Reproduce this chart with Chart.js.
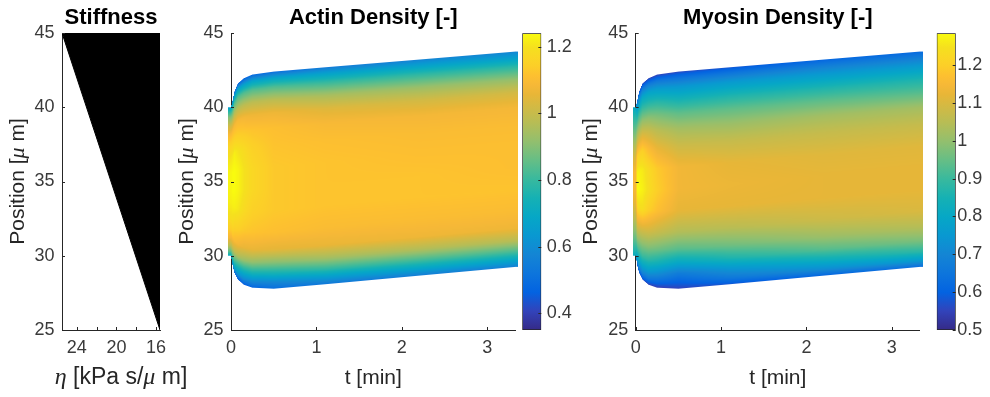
<!DOCTYPE html>
<html lang="en">
<head>
    <meta charset="UTF-8">
    <title>Stiffness, Actin and Myosin Density</title>
    <script src="https://cdn.jsdelivr.net/npm/chart.js"></script>
    <style>
        body { margin: 0; background: #fff; }
        #fig { position: relative; width: 990px; height: 397px; overflow: hidden; background: #fff; }
        .panel { position: absolute; top: 0; height: 397px; }
    </style>
</head>
<body>
<div id="fig">
    <div class="panel" style="left:0;width:210px"><canvas id="stiffChart"></canvas></div>
    <div class="panel" style="left:170px;width:350px"><canvas id="actinChart"></canvas></div>
    <div class="panel" style="left:512px;width:80px"><canvas id="actinBar"></canvas></div>
    <div class="panel" style="left:575px;width:350px"><canvas id="myosinChart"></canvas></div>
    <div class="panel" style="left:927px;width:63px"><canvas id="myosinBar"></canvas></div>
</div>

<script>
    // ---- data ----
    // stiffness: eta along the cell (straight line corner to corner)
    const stiffPosition = [25, 45];
    const stiffEta = [15.6, 25.5];
    const etaTicks = [16, 18, 20, 22, 24];
    const etaLabels = [16, 20, 24];

    const positionTicks = [25, 30, 35, 40, 45];
    const timeTicks = [0, 1, 2, 3];
    const tMax = 3.33;

    // time columns of the kymographs and the cell edges at those times [um]
    const times        = [0,  0.02, 0.04, 0.08, 0.15, 0.25, 0.5,   1.1,   2.2,   3.33];
    const domainTop    = [40, 40.5, 41.05, 41.6, 41.95, 42.2, 42.4, 42.69, 43.21, 43.75];
    const domainBottom = [30, 29.3, 28.85, 28.4, 28.05, 27.85, 27.78, 28.08, 28.66, 29.25];

    // fraction of the way from bottom edge (0) to top edge (1)
    const fracs = [0, 0.03, 0.07, 0.12, 0.18, 0.26, 0.36, 0.46, 0.56, 0.66, 0.74, 0.81, 0.87, 0.93, 0.97, 1];

    // actin density, one row per time column
    const actinDensity = [
        [0.70, 0.85, 0.98, 1.08, 1.14, 1.19, 1.22, 1.23, 1.23, 1.20, 1.16, 1.10, 1.02, 0.90, 0.78, 0.65],
        [0.55, 0.72, 0.88, 1.02, 1.12, 1.18, 1.22, 1.24, 1.24, 1.21, 1.16, 1.10, 1.00, 0.86, 0.72, 0.55],
        [0.50, 0.68, 0.83, 0.99, 1.10, 1.16, 1.22, 1.24, 1.24, 1.22, 1.15, 1.09, 0.99, 0.85, 0.70, 0.50],
        [0.45, 0.63, 0.77, 0.96, 1.08, 1.15, 1.21, 1.23, 1.23, 1.20, 1.14, 1.09, 0.98, 0.84, 0.68, 0.47],
        [0.45, 0.60, 0.75, 0.93, 1.06, 1.13, 1.18, 1.20, 1.20, 1.18, 1.13, 1.08, 0.98, 0.83, 0.66, 0.46],
        [0.47, 0.59, 0.75, 0.92, 1.06, 1.12, 1.15, 1.17, 1.17, 1.15, 1.12, 1.07, 0.98, 0.83, 0.67, 0.48],
        [0.50, 0.58, 0.74, 0.90, 1.05, 1.11, 1.13, 1.13, 1.13, 1.12, 1.11, 1.07, 0.98, 0.83, 0.68, 0.50],
        [0.53, 0.64, 0.79, 0.94, 1.06, 1.10, 1.12, 1.12, 1.12, 1.11, 1.09, 1.04, 0.95, 0.80, 0.67, 0.54],
        [0.55, 0.67, 0.81, 0.96, 1.07, 1.10, 1.12, 1.12, 1.11, 1.10, 1.08, 1.02, 0.93, 0.79, 0.67, 0.57],
        [0.56, 0.68, 0.82, 0.97, 1.07, 1.10, 1.12, 1.11, 1.11, 1.10, 1.08, 1.02, 0.92, 0.78, 0.66, 0.58]
    ];
    const actinRange = [0.35, 1.24];
    const actinTicks = [0.4, 0.6, 0.8, 1, 1.2];

    // myosin density, one row per time column
    const myosinDensity = [
        [0.82, 0.86, 0.90, 0.95, 1.00, 1.06, 1.12, 1.15, 1.15, 1.10, 1.04, 0.98, 0.93, 0.88, 0.84, 0.80],
        [0.60, 0.72, 0.83, 0.93, 1.02, 1.12, 1.23, 1.28, 1.27, 1.20, 1.10, 1.01, 0.92, 0.82, 0.72, 0.62],
        [0.57, 0.70, 0.81, 0.91, 1.00, 1.11, 1.24, 1.28, 1.27, 1.20, 1.10, 1.00, 0.91, 0.80, 0.69, 0.57],
        [0.57, 0.68, 0.79, 0.90, 0.99, 1.10, 1.24, 1.27, 1.26, 1.20, 1.10, 1.00, 0.90, 0.80, 0.68, 0.56],
        [0.55, 0.66, 0.77, 0.88, 0.98, 1.09, 1.20, 1.24, 1.23, 1.16, 1.08, 0.99, 0.89, 0.79, 0.67, 0.55],
        [0.54, 0.63, 0.73, 0.85, 0.96, 1.07, 1.17, 1.20, 1.19, 1.12, 1.05, 0.97, 0.88, 0.77, 0.66, 0.55],
        [0.55, 0.60, 0.67, 0.80, 0.93, 1.04, 1.12, 1.14, 1.14, 1.08, 1.02, 0.94, 0.85, 0.75, 0.65, 0.56],
        [0.58, 0.66, 0.74, 0.86, 0.96, 1.05, 1.12, 1.13, 1.12, 1.07, 1.01, 0.94, 0.86, 0.76, 0.66, 0.58],
        [0.61, 0.72, 0.82, 0.93, 1.01, 1.08, 1.12, 1.12, 1.11, 1.07, 1.02, 0.94, 0.86, 0.76, 0.68, 0.61],
        [0.63, 0.76, 0.88, 0.97, 1.04, 1.10, 1.12, 1.12, 1.11, 1.07, 1.02, 0.93, 0.86, 0.76, 0.68, 0.62]
    ];
    const myosinRange = [0.5, 1.284];
    const myosinTicks = [0.5, 0.6, 0.7, 0.8, 0.9, 1, 1.1, 1.2];

    // ---- look ----
    const FONT = "'Liberation Sans', Arial, Helvetica, sans-serif";
    const SERIF = "'Liberation Serif', 'Times New Roman', serif";
    const INK = '#262626';
    const TICK_COLOR = '#3a3a3a';
    const HALF_CELL = 0.035;   // image cells stick out half a step past t=0 and t=tMax

    Chart.defaults.font.family = FONT;
    Chart.defaults.color = TICK_COLOR;
    Chart.defaults.animation = false;

    // parula colormap (subset of the 64 entries, warm end tuned to the picture)
    const parulaIdx = [0, 4, 8, 12, 16, 20, 24, 28, 32, 36, 40, 44, 48, 50, 52, 54, 56, 58, 60, 63];
    const parulaRGB = [
        [53, 42, 135], [50, 67, 186], [3, 99, 225], [13, 117, 220], [20, 133, 212],
        [9, 152, 209], [6, 167, 198], [21, 177, 180], [56, 185, 158], [101, 190, 134],
        [146, 191, 110], [183, 189, 85], [215, 185, 65], [232, 182, 55], [246, 184, 55],
        [253, 192, 48], [252, 206, 40], [250, 215, 36], [245, 224, 30], [249, 251, 14]
    ];
    const parulaPos = parulaIdx.map(i => i / 63);

    function parula(u) {
        u = Math.min(1, Math.max(0, u));
        let k = 0;
        while (k < parulaPos.length - 2 && u > parulaPos[k + 1]) k++;
        const s = (u - parulaPos[k]) / (parulaPos[k + 1] - parulaPos[k]);
        const a = parulaRGB[k], b = parulaRGB[k + 1];
        return [a[0] + (b[0] - a[0]) * s, a[1] + (b[1] - a[1]) * s, a[2] + (b[2] - a[2]) * s];
    }

    function lerp(a, b, s) { return a + (b - a) * s; }

    function profileAt(row, fr) {
        let k = 0;
        while (k < fracs.length - 2 && fr > fracs[k + 1]) k++;
        const s = (fr - fracs[k]) / (fracs[k + 1] - fracs[k]);
        return lerp(row[k], row[k + 1], s);
    }

    // draws the kymograph, mapping every pixel through the chart scales
    function fieldPlugin(values, range) {
        return {
            id: 'field',
            beforeDatasetsDraw(chart) {
                const xs = chart.scales.x, ys = chart.scales.y;
                const x0 = Math.floor(xs.getPixelForValue(-HALF_CELL));
                const x1 = Math.ceil(xs.getPixelForValue(tMax + HALF_CELL));
                const y0 = Math.floor(ys.getPixelForValue(ys.max));
                const y1 = Math.ceil(ys.getPixelForValue(ys.min));
                const w = x1 - x0, h = y1 - y0;
                const pxPerUnit = Math.abs(ys.getPixelForValue(0) - ys.getPixelForValue(1));
                const off = document.createElement('canvas');
                off.width = w; off.height = h;
                const octx = off.getContext('2d');
                const img = octx.createImageData(w, h);
                for (let i = 0; i < w; i++) {
                    let t = xs.getValueForPixel(x0 + i + 0.5);
                    if (t < -HALF_CELL || t > tMax + HALF_CELL) continue;
                    t = Math.min(Math.max(t, times[0]), times[times.length - 1]);
                    let k = 0;
                    while (k < times.length - 2 && t > times[k + 1]) k++;
                    const s = (t - times[k]) / (times[k + 1] - times[k]);
                    const top = lerp(domainTop[k], domainTop[k + 1], s);
                    const bot = lerp(domainBottom[k], domainBottom[k + 1], s);
                    for (let j = 0; j < h; j++) {
                        const pos = ys.getValueForPixel(y0 + j + 0.5);
                        const cov = Math.min(1, Math.max(0, (top - pos) * pxPerUnit + 0.5)) *
                                    Math.min(1, Math.max(0, (pos - bot) * pxPerUnit + 0.5));
                        if (cov <= 0) continue;
                        const fr = Math.min(1, Math.max(0, (pos - bot) / (top - bot)));
                        const v = lerp(profileAt(values[k], fr), profileAt(values[k + 1], fr), s);
                        const c = parula((v - range[0]) / (range[1] - range[0]));
                        const p = (j * w + i) * 4;
                        img.data[p] = c[0]; img.data[p + 1] = c[1]; img.data[p + 2] = c[2];
                        img.data[p + 3] = Math.round(255 * cov);
                    }
                }
                octx.putImageData(img, 0, 0);
                chart.ctx.drawImage(off, x0, y0);
            }
        };
    }

    // small inward tick marks like matlab
    function inTicksPlugin(len) {
        return {
            id: 'inTicks',
            afterDraw(chart) {
                const {ctx, chartArea: a} = chart;
                ctx.save();
                ctx.strokeStyle = INK;
                ctx.lineWidth = 1;
                for (const s of Object.values(chart.scales)) {
                    if (!s.options.display) continue;
                    for (const t of s.ticks) {
                        const p = Math.round(s.getPixelForValue(t.value)) + 0.5;
                        ctx.beginPath();
                        if (s.isHorizontal()) {
                            ctx.moveTo(p, a.bottom); ctx.lineTo(p, a.bottom - len);
                        } else if (s.position === 'left') {
                            ctx.moveTo(a.left, p); ctx.lineTo(a.left + len, p);
                        } else {
                            ctx.moveTo(a.right, p); ctx.lineTo(a.right - len, p);
                        }
                        ctx.stroke();
                    }
                }
                ctx.restore();
            }
        };
    }

    // axis labels with tex-like italic greek letters
    function drawParts(ctx, parts, cx, cy, rot, size) {
        ctx.save();
        ctx.translate(cx, cy);
        ctx.rotate(rot);
        ctx.textBaseline = 'middle';
        ctx.textAlign = 'left';
        const fonts = parts.map(p => p[1] ? 'italic ' + (size + 1) + 'px ' + SERIF : size + 'px ' + FONT);
        let total = 0;
        const widths = parts.map((p, i) => { ctx.font = fonts[i]; const w = ctx.measureText(p[0]).width; total += w; return w; });
        let x = -total / 2;
        parts.forEach((p, i) => { ctx.font = fonts[i]; ctx.fillText(p[0], x, 0); x += widths[i]; });
        ctx.restore();
    }

    function labelsPlugin(xParts, yParts, xShift, xSize) {
        return {
            id: 'axisLabels',
            afterDraw(chart) {
                const {ctx, chartArea: a} = chart;
                ctx.save();
                ctx.fillStyle = INK;
                drawParts(ctx, xParts, (a.left + a.right) / 2 + xShift, a.bottom + 48, 0, xSize);
                drawParts(ctx, yParts, a.left - 44, (a.top + a.bottom) / 2, -Math.PI / 2, 21);
                ctx.restore();
            }
        };
    }

    const positionLabel = [['Position [', false], ['\u03bc', true], [' m]', false]];
    const timeLabel = [['t [min]', false]];
    const etaLabel = [['\u03b7', true], [' [kPa s/', false], ['\u03bc', true], [' m]', false]];

    // plain number labels: 1 instead of 1.0
    const plainNumber = v => String(Math.round(v * 100) / 100);

    function titleOpts(text) {
        return {
            display: true, text: text, fullSize: false, color: '#000',
            font: { size: 22, weight: 'bold', family: FONT },
            padding: { top: 4.8, bottom: 1.8 }
        };
    }

    function yAxis(width) {
        return {
            type: 'linear', min: 25, max: 45,
            afterBuildTicks: s => { s.ticks = positionTicks.map(v => ({ value: v })); },
            afterFit: s => { s.width = width; },
            grid: { display: false, drawTicks: false },
            border: { display: true, color: INK, width: 1 },
            ticks: { font: { size: 18 }, padding: 7.5, callback: plainNumber }
        };
    }

    // ---- stiffness panel ----
    new Chart(document.getElementById('stiffChart'), {
        type: 'scatter',
        data: {
            datasets: [{
                data: stiffEta.map((e, i) => ({ x: e, y: stiffPosition[i] })),
                showLine: true,
                fill: 'end',
                backgroundColor: '#000',
                borderColor: '#000',
                borderWidth: 1,
                pointRadius: 0
            }]
        },
        options: {
            responsive: true, maintainAspectRatio: false, events: [],
            layout: { padding: { left: 0, right: 50, top: 0, bottom: 0 } },
            scales: {
                x: {
                    type: 'linear', reverse: true, min: 15.6, max: 25.5,
                    afterBuildTicks: s => { s.ticks = etaTicks.map(v => ({ value: v })); },
                    afterFit: s => { s.height = 67; },
                    grid: { display: false, drawTicks: false },
                    border: { display: true, color: INK, width: 1 },
                    ticks: { font: { size: 18 }, padding: 7, maxRotation: 0,
                             callback: v => etaLabels.includes(v) ? String(v) : '' }
                },
                y: yAxis(62)
            },
            plugins: { legend: { display: false }, tooltip: { enabled: false }, title: titleOpts('Stiffness') }
        },
        plugins: [inTicksPlugin(3), labelsPlugin(etaLabel, positionLabel, 10, 23)]
    });

    // ---- kymographs ----
    function kymograph(id, title, values, range, yWidth, padRight) {
        return new Chart(document.getElementById(id), {
            type: 'scatter',
            data: { datasets: [] },
            options: {
                responsive: true, maintainAspectRatio: false, events: [],
                layout: { padding: { left: 0, right: padRight, top: 0, bottom: 0 } },
                scales: {
                    x: {
                        type: 'linear', min: 0, max: tMax,
                        afterBuildTicks: s => { s.ticks = timeTicks.map(v => ({ value: v })); },
                        afterFit: s => { s.height = 67; },
                        grid: { display: false, drawTicks: false },
                        border: { display: true, color: INK, width: 1 },
                        ticks: { font: { size: 18 }, padding: 7, maxRotation: 0, callback: plainNumber }
                    },
                    y: yAxis(yWidth)
                },
                plugins: { legend: { display: false }, tooltip: { enabled: false }, title: titleOpts(title) }
            },
            plugins: [fieldPlugin(values, range), inTicksPlugin(3), labelsPlugin(timeLabel, positionLabel, 0, 21)]
        });
    }

    kymograph('actinChart', 'Actin Density [-]', actinDensity, actinRange, 61, 4.5);
    kymograph('myosinChart', 'Myosin Density [-]', myosinDensity, myosinRange, 60.7, 5.1);

    // ---- colorbars ----
    function colorbar(id, range, ticks, padLeft, scaleWidth, tickPad) {
        return new Chart(document.getElementById(id), {
            type: 'bar',
            data: {
                labels: [''],
                datasets: [{
                    data: [range],
                    backgroundColor: c => {
                        const a = c.chart.chartArea;
                        if (!a) return null;
                        const g = c.chart.ctx.createLinearGradient(0, a.bottom, 0, a.top);
                        parulaRGB.forEach((col, i) => g.addColorStop(parulaPos[i], 'rgb(' + col.join(',') + ')'));
                        return g;
                    },
                    borderColor: INK,
                    borderWidth: 1,
                    borderSkipped: false,
                    barPercentage: 1,
                    categoryPercentage: 1
                }]
            },
            options: {
                responsive: true, maintainAspectRatio: false, events: [],
                layout: { padding: { left: padLeft, right: 0, top: 33.3, bottom: 67 } },
                scales: {
                    x: { display: false },
                    y: {
                        type: 'linear', position: 'right', min: range[0], max: range[1],
                        afterBuildTicks: s => { s.ticks = ticks.map(v => ({ value: v })); },
                        afterFit: s => { s.width = scaleWidth; },
                        grid: { display: false, drawTicks: false },
                        border: { display: false },
                        ticks: { font: { size: 18 }, padding: tickPad, callback: plainNumber }
                    }
                },
                plugins: { legend: { display: false }, tooltip: { enabled: false } }
            },
            plugins: [inTicksPlugin(3)]
        });
    }

    colorbar('actinBar', actinRange, actinTicks, 10.3, 50.7, 5.4);
    colorbar('myosinBar', myosinRange, myosinTicks, 9.7, 34.3, 1.6);
</script>
</body>
</html>
